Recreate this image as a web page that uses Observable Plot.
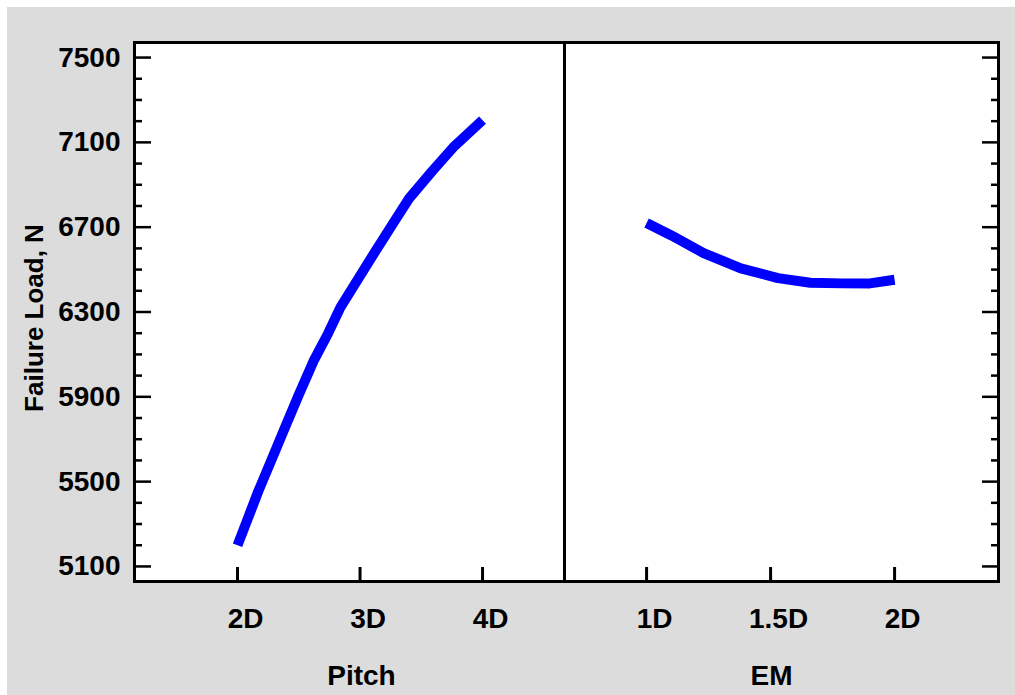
<!DOCTYPE html>
<html>
<head>
<meta charset="utf-8">
<script src="https://cdn.jsdelivr.net/npm/d3@7"></script>
<script src="https://cdn.jsdelivr.net/npm/@observablehq/plot@0.6"></script>
<style>
  html, body { margin: 0; padding: 0; background: #ffffff; }
  #wrap { position: relative; width: 1015px; height: 695px; background: #ffffff; overflow: hidden; }
  #bg { position: absolute; left: 7px; top: 7px; width: 1008px; height: 688px; background: #dcdcdc; }
</style>
</head>
<body>
<div id="wrap"><div id="bg"></div></div>
<script>
// ---- Data ----
const pitch = [2.0, 2.07, 2.17, 2.29, 2.38, 2.5, 2.62, 2.74, 2.84, 3.0, 3.13, 3.27, 3.4, 3.59, 3.76, 4.0];
const pitchLoad = [5200, 5305, 5455, 5620, 5745, 5910, 6068, 6200, 6322, 6470, 6591, 6718, 6835, 6965, 7076, 7205];

const em = [1.0, 1.1, 1.23, 1.38, 1.53, 1.66, 1.79, 1.9, 2.0];
const emLoad = [6720, 6661, 6578, 6506, 6460, 6438, 6435, 6435, 6452];

const yMajor = [5100, 5500, 5900, 6300, 6700, 7100, 7500];
const yMinor = [5200, 5300, 5400, 5600, 5700, 5800, 6000, 6100, 6200, 6400, 6500, 6600, 6800, 6900, 7000, 7200, 7300, 7400];
const pitchTicks = [2, 3, 4];
const emTicks = [1, 1.5, 2];
const pitchTickLabels = ["2D", "3D", "4D"];
const emTickLabels = ["1D", "1.5D", "2D"];
const yTitle = "Failure Load, N";
const pitchTitle = "Pitch";
const emTitle = "EM";

const pitchData = pitch.map((p, i) => ({x: p, y: pitchLoad[i]}));
const emData = em.map((p, i) => ({x: p, y: emLoad[i]}));

const FONT = "'Liberation Sans', Arial, Helvetica, sans-serif";
const H = 695, MT = 42, MB = 114;
const yScale = {domain: [5029, 7571], label: null};
const baseStyle = {fontFamily: FONT, fontSize: "28px", fontWeight: "bold", background: "transparent", overflow: "visible", color: "#000"};
const BLUE = "#0000ff";

const left = Plot.plot({
  width: 564, height: H,
  marginLeft: 134, marginRight: 0, marginTop: MT, marginBottom: MB,
  style: baseStyle,
  x: {domain: [1.159, 4.669], label: null},
  y: yScale,
  marks: [
    Plot.frame({fill: "white", stroke: null}),
    Plot.axisY(yMajor, {anchor: "left", tickSize: -17, strokeWidth: 2.5, tickFormat: () => ""}),
    Plot.axisY(yMinor, {anchor: "left", tickSize: -8, strokeWidth: 2.5, tickFormat: () => ""}),
    Plot.axisY(yMajor, {anchor: "left", tickSize: 0, tickPadding: 14, tickFormat: d => String(d)}),
    Plot.axisX(pitchTicks, {anchor: "bottom", tickSize: -14, strokeWidth: 3, tickFormat: () => ""}),
    Plot.axisX(pitchTicks, {anchor: "bottom", tickSize: 0, tickPadding: 27, dx: 8, tickFormat: (d, i) => pitchTickLabels[i]}),
    Plot.line(pitchData, {x: "x", y: "y", stroke: BLUE, strokeWidth: 10, strokeLinecap: "butt", strokeLinejoin: "round", curve: "linear"}),
    Plot.text([yTitle], {text: d => d, frameAnchor: "left", textAnchor: "middle", lineAnchor: "middle", rotate: -90, dx: -100, dy: 6, fontSize: 26}),
    Plot.text([pitchTitle], {text: d => d, frameAnchor: "bottom", textAnchor: "middle", lineAnchor: "middle", dx: 12, dy: 95}),
    Plot.frame({stroke: "black", strokeWidth: 3})
  ]
});

const right = Plot.plot({
  width: 451, height: H,
  marginLeft: 0, marginRight: 17, marginTop: MT, marginBottom: MB,
  style: baseStyle,
  x: {domain: [0.669, 2.419], label: null},
  y: yScale,
  marks: [
    Plot.frame({fill: "white", stroke: null}),
    Plot.axisY(yMajor, {anchor: "right", tickSize: -17, strokeWidth: 2.5, tickFormat: () => ""}),
    Plot.axisY(yMinor, {anchor: "right", tickSize: -8, strokeWidth: 2.5, tickFormat: () => ""}),
    Plot.axisX(emTicks, {anchor: "bottom", tickSize: -14, strokeWidth: 3, tickFormat: () => ""}),
    Plot.axisX(emTicks, {anchor: "bottom", tickSize: 0, tickPadding: 27, dx: 8, tickFormat: (d, i) => emTickLabels[i]}),
    Plot.line(emData, {x: "x", y: "y", stroke: BLUE, strokeWidth: 10, strokeLinecap: "butt", strokeLinejoin: "round", curve: "linear"}),
    Plot.text([emTitle], {text: d => d, frameAnchor: "bottom", textAnchor: "middle", lineAnchor: "middle", dx: -10, dy: 95}),
    Plot.frame({stroke: "black", strokeWidth: 3})
  ]
});

const wrap = document.getElementById("wrap");
for (const [svg, x] of [[left, 0], [right, 564]]) {
  svg.style.position = "absolute";
  svg.style.left = x + "px";
  svg.style.top = "0px";
  wrap.appendChild(svg);
}
</script>
</body>
</html>
